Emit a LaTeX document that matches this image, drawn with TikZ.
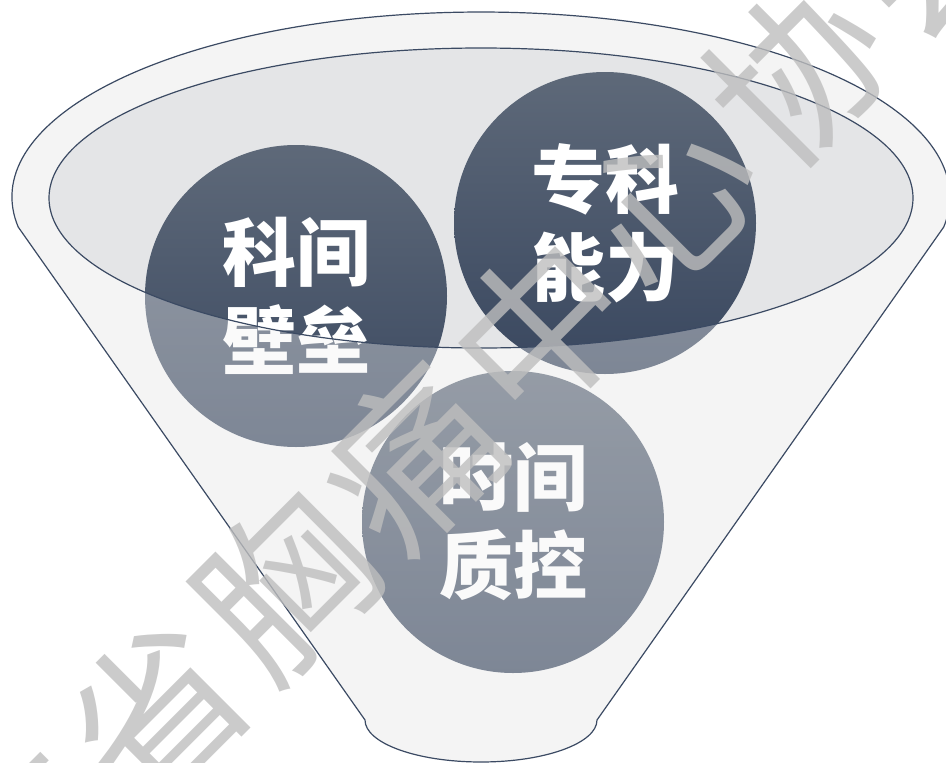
\documentclass[tikz,border=0pt]{standalone}
\usepackage{fontspec}
\newfontfamily\cjk{Noto Sans CJK SC}
\definecolor{rim}{HTML}{F4F4F4}
\definecolor{hole}{HTML}{E4E5E7}
\definecolor{edge}{HTML}{3B4A63}
\definecolor{balltop}{HTML}{5E6979}
\definecolor{ballbot}{HTML}{39475F}
\definecolor{wm}{HTML}{BEBEBE}
\begin{document}
\begin{tikzpicture}[x=1pt,y=-1pt,
  ball/.style={circle, minimum size=302pt, inner sep=0pt, top color=balltop, bottom color=ballbot,
    text=white, align=center, font=\cjk\bfseries\fontsize{74}{88}\selectfont},
  wmchar/.style={text=wm, text opacity=0.8, rotate=45, inner sep=0pt,
    font=\cjk\fontsize{170}{170}\selectfont},
  edgeline/.style={draw=edge, line width=1.2pt}]
\useasboundingbox (0,0) rectangle (946,763);
% funnel body
\fill[rim] (18.2,227) arc[start angle=170.67, end angle=369.33, x radius=469, y radius=185]
  -- (597,720) arc[start angle=0, end angle=180, x radius=116, y radius=42] -- cycle;
% opening
\fill[hole] (481,198) ellipse[x radius=432, y radius=150];
% balls
\node[ball] (c1) at (296,296) {科间\\壁垒};
\node[ball] (c2) at (605,223) {专科\\能力};
\node[ball] (c3) at (513,522) {时间\\质控};
% front wall, seen through
\fill[rim, fill opacity=0.37, even odd rule] (18.2,227) arc[start angle=170.67, end angle=369.33, x radius=469, y radius=185]
  -- (597,720) arc[start angle=0, end angle=180, x radius=116, y radius=42] -- cycle
  (481,198) ellipse[x radius=432, y radius=150];
% outlines
\draw[edgeline] (481,198) ellipse[x radius=432, y radius=150];
\draw[edgeline] (18.2,227) arc[start angle=170.67, end angle=369.33, x radius=469, y radius=185]
  -- (597,720) arc[start angle=0, end angle=180, x radius=116, y radius=42] -- cycle;
% watermark
\begin{scope}
\clip (0,0) rectangle (946,763);
\foreach \ch [count=\i from -1] in {东,省,胸,痛,中,心,协,会}
  \node[wmchar] (w\i) at ({285+128*(\i-1)},{585-128*(\i-1)}) {\ch};
\end{scope}
\end{tikzpicture}
\end{document}
